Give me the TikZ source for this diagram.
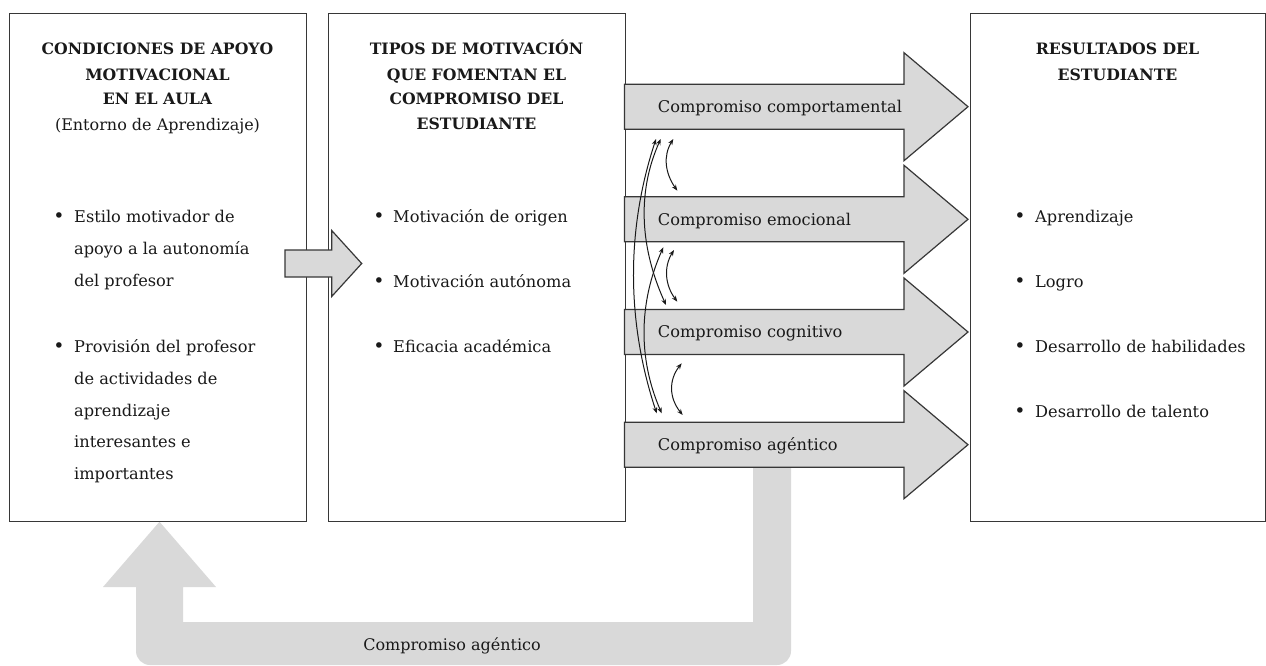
\documentclass[tikz,border=0pt]{standalone}
\usepackage{fontspec}
\setmainfont{DejaVu Serif}
\usetikzlibrary{arrows.meta}
\definecolor{stripgray}{RGB}{217,217,217}
\definecolor{edgegray}{RGB}{55,55,55}
\definecolor{inkblack}{RGB}{25,25,25}

\begin{document}
\begin{tikzpicture}[x=1pt,y=-1pt,
  panel/.style={draw=edgegray, line width=1.4pt, fill=white, inner sep=0pt, anchor=north west},
  headtxt/.style={font=\fontsize{15.7}{18}\selectfont\bfseries, text=inkblack, inner sep=0pt, anchor=base},
  subtxt/.style={font=\fontsize{16}{19}\selectfont, text=inkblack, inner sep=0pt, anchor=base},
  bodytxt/.style={font=\fontsize{16.2}{19}\selectfont, text=inkblack, inner sep=0pt, anchor=base west},
  dot/.style={font=\fontsize{19}{21}\selectfont, text=inkblack, inner sep=0pt, anchor=base},
  strip/.style={fill=stripgray, draw=edgegray, line width=1.2pt, line join=miter},
  link/.style={{Stealth[length=6pt,width=4.6pt]}-{Stealth[length=6pt,width=4.6pt]}, line width=1pt, draw=inkblack},
]
\useasboundingbox (0,0) rectangle (1266,666);

% feedback loop: agentic engagement back to the learning environment
\fill[stripgray] (753,467) -- (753,622) -- (183,622) -- (183,587) -- (216,587)
  -- (159.5,521.7) -- (103,587) -- (136,587) -- (136,600)
  [rounded corners=14pt] -- (136,665) -- (791,665) -- (791,600)
  [sharp corners] -- (791,467) -- cycle;
\node[subtxt] (loop) at (452,650) {Compromiso agéntico};

% the three panels
\node[panel, minimum width=297pt, minimum height=508pt] (cond) at (9,12.7) {};
\node[panel, minimum width=297pt, minimum height=508pt] (mot) at (327.5,12.7) {};
\node[panel, minimum width=295pt, minimum height=508pt] (res) at (970,12.7) {};

% arrow from the conditions panel into the motivation panel
\filldraw[strip] (285,250) -- (331.7,250) -- (331.7,230.5) -- (361.7,263.5)
  -- (331.7,296.5) -- (331.7,277) -- (285,277) -- cycle;

% engagement strips
\foreach \yc in {106.7,219.3,332,444.7}{
  \filldraw[strip] (624.5,\yc-22.5) -- (904,\yc-22.5) -- (904,\yc-54) -- (968,\yc)
    -- (904,\yc+54) -- (904,\yc+22.5) -- (624.5,\yc+22.5) -- cycle;
}
\node[bodytxt] (eb) at (657.7,112.5) {Compromiso comportamental};
\node[bodytxt] (ee) at (657.7,225) {Compromiso emocional};
\node[bodytxt] (ec) at (657.7,337.7) {Compromiso cognitivo};
\node[bodytxt] (ea) at (657.7,450.3) {Compromiso agéntico};

% reciprocal links between the engagement types
\coordinate (b1) at (656,139);   \coordinate (a1) at (656.7,413.3);
\coordinate (b2) at (660.7,139); \coordinate (c2) at (666,305);
\coordinate (e3) at (663.3,247.3); \coordinate (a3) at (661.7,413.3);
\coordinate (b4) at (673.3,139); \coordinate (e4) at (677.3,190.7);
\coordinate (e5) at (674,250);   \coordinate (c5) at (677.3,301.7);
\coordinate (c6) at (681.7,363.3); \coordinate (a6) at (682.7,415);
\draw[link] (b1) .. controls (626,230) and (626.5,322) .. (a1);
\draw[link] (b2) .. controls (636,194) and (641,250) .. (c2);
\draw[link] (e3) .. controls (639,302) and (637.7,358) .. (a3);
\draw[link] (b4) .. controls (663,156) and (665,173) .. (e4);
\draw[link] (e5) .. controls (663.5,267) and (665,285) .. (c5);
\draw[link] (c6) .. controls (668.5,380) and (669,398) .. (a6);

% panel 1 text
\node[headtxt] (h11) at (157.5,55) {CONDICIONES DE APOYO};
\node[headtxt] (h12) at (157.5,80.5) {MOTIVACIONAL};
\node[headtxt] (h13) at (157.5,105) {EN EL AULA};
\node[subtxt]  (h14) at (157.5,130.5) {(Entorno de Aprendizaje)};
\node[dot] (d11) at (59,222.7) {•};
\node[bodytxt] (t11) at (74,222.7) {Estilo motivador de};
\node[bodytxt] (t12) at (74,254.4) {apoyo a la autonomía};
\node[bodytxt] (t13) at (74,286.1) {del profesor};
\node[dot] (d12) at (59,352.7) {•};
\node[bodytxt] (t14) at (74,352.7) {Provisión del profesor};
\node[bodytxt] (t15) at (74,384.4) {de actividades de};
\node[bodytxt] (t16) at (74,416.1) {aprendizaje};
\node[bodytxt] (t17) at (74,447.8) {interesantes e};
\node[bodytxt] (t18) at (74,479.5) {importantes};

% panel 2 text
\node[headtxt] (h21) at (476.5,55) {TIPOS DE MOTIVACIÓN};
\node[headtxt] (h22) at (476.5,80.5) {QUE FOMENTAN EL};
\node[headtxt] (h23) at (476.5,105) {COMPROMISO DEL};
\node[headtxt] (h24) at (476.5,130) {ESTUDIANTE};
\node[dot] (d21) at (379,222.7) {•};
\node[bodytxt] (t21) at (393,222.7) {Motivación de origen};
\node[dot] (d22) at (379,287.7) {•};
\node[bodytxt] (t22) at (393,287.7) {Motivación autónoma};
\node[dot] (d23) at (379,352.7) {•};
\node[bodytxt] (t23) at (393,352.7) {Eficacia académica};

% panel 3 text
\node[headtxt] (h31) at (1117.5,55) {RESULTADOS DEL};
\node[headtxt] (h32) at (1117.5,80.5) {ESTUDIANTE};
\node[dot] (d31) at (1020,222) {•};
\node[bodytxt] (t31) at (1035,222) {Aprendizaje};
\node[dot] (d32) at (1020,287) {•};
\node[bodytxt] (t32) at (1035,287) {Logro};
\node[dot] (d33) at (1020,352.3) {•};
\node[bodytxt] (t33) at (1035,352.3) {Desarrollo de habilidades};
\node[dot] (d34) at (1020,417.7) {•};
\node[bodytxt] (t34) at (1035,417.7) {Desarrollo de talento};
\end{tikzpicture}
\end{document}
